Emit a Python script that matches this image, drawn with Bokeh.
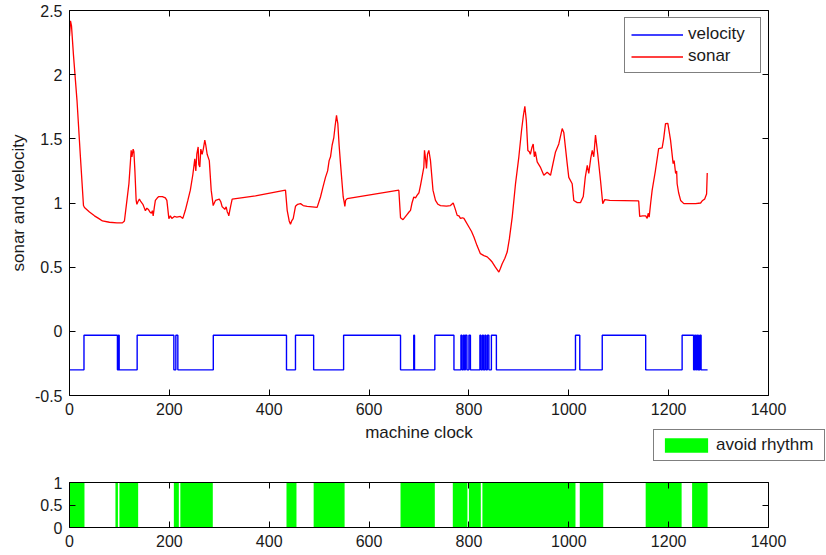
from bokeh.plotting import figure
from bokeh.models import (LinearAxis, Legend, LegendItem, FixedTicker, Range1d, Label)
from bokeh.layouts import column, row
from bokeh.embed import file_html
from bokeh.resources import INLINE

# ---- sonar reading against machine clock ----
sonar_t = [0, 2, 4, 8, 15, 22, 28, 30, 40, 50, 59, 66, 80, 95, 106, 110, 115, 119, 122,
           123.5, 125, 127.5, 129, 131, 133.5, 135, 137, 140, 143, 147, 150, 152, 155, 158,
           161, 164, 166, 167.6, 170, 172, 176, 179, 186, 192, 195, 197, 199, 202, 205, 210,
           215, 222, 227, 232, 237, 242, 247, 251, 253, 255, 257.7, 259, 261, 263, 265.7,
           268, 271, 273, 275.7, 280, 283.8, 287.8, 290, 292.4, 300, 303, 305.8, 309, 311,
           313.8, 316, 317.8, 319, 321, 323, 325.8, 372.5, 432.6, 436, 440, 442.6, 445, 448,
           452.6, 457, 462.7, 468, 476, 496, 502.7, 508, 512.7, 517, 520, 522.8, 526, 529.4,
           532, 534.8, 536, 537.4, 540, 542.8, 546, 548.2, 550, 551.5, 553, 556.2, 659.6,
           663, 668, 672, 676, 680, 683, 686, 689.6, 693, 696, 700, 703, 706, 709.7, 711,
           713, 715, 717, 719.7, 721, 723, 728, 733, 738, 743, 755, 763, 768.5, 772, 776.5,
           780, 783, 787, 790, 800, 805, 810, 816, 823, 830, 836.6, 842, 846.6, 853, 860,
           863, 866.6, 872, 876.6, 881, 886.7, 893.3, 900, 905.4, 909, 912, 915, 918, 921,
           923, 926, 928.7, 931, 933, 936.7, 943, 950, 956.7, 963.4, 968, 973.4, 980, 986.8,
           990, 996.8, 1000, 1006.8, 1010, 1017, 1023.4, 1029, 1033, 1037, 1040, 1044, 1047,
           1050, 1053.5, 1055, 1058, 1063.5, 1068, 1072, 1082, 1140, 1142, 1148, 1154, 1157,
           1159, 1161, 1164, 1167, 1173.6, 1180, 1187, 1190, 1193.7, 1198.4, 1203.8, 1209,
           1211, 1214, 1216, 1217, 1220, 1224, 1230.5, 1254, 1264, 1268, 1272, 1276, 1277.3]
sonar_v = [2.30, 2.42, 2.38, 2.15, 1.80, 1.35, 0.98, 0.965, 0.93, 0.90, 0.878, 0.86, 0.85,
           0.845, 0.845, 0.86, 1.02, 1.15, 1.32, 1.41, 1.36, 1.42, 1.40, 1.25, 1.02, 0.99,
           1.01, 1.03, 1.01, 0.99, 0.96, 0.94, 0.96, 0.95, 0.93, 0.92, 0.94, 0.90, 0.97,
           1.02, 1.04, 1.05, 1.05, 1.04, 1.02, 0.95, 0.878, 0.90, 0.88, 0.895, 0.89, 0.895,
           0.88, 0.943, 1.02, 1.10, 1.22, 1.345, 1.25, 1.38, 1.437, 1.30, 1.28, 1.42, 1.38,
           1.42, 1.49, 1.45, 1.38, 1.33, 1.10, 0.98, 1.00, 1.02, 1.03, 1.01, 0.97, 0.96,
           0.95, 0.97, 0.93, 0.917, 0.90, 0.94, 0.98, 1.03, 1.055, 1.10, 0.943, 0.86, 0.834,
           0.86, 0.878, 0.974, 0.99, 0.995, 0.98, 0.974, 0.966, 1.047, 1.13, 1.20, 1.25,
           1.33, 1.36, 1.45, 1.51, 1.60, 1.684, 1.65, 1.62, 1.45, 1.307, 1.15, 1.047, 1.01,
           0.974, 1.02, 1.034, 1.10, 0.886, 0.87, 0.89, 0.91, 0.93, 0.943, 1.00, 1.047, 1.04,
           1.06, 1.08, 1.138, 1.20, 1.28, 1.41, 1.35, 1.27, 1.38, 1.41, 1.38, 1.33, 1.10,
           1.02, 0.99, 0.98, 0.975, 0.98, 1.00, 0.96, 0.904, 0.90, 0.88, 0.885, 0.88, 0.813,
           0.78, 0.735, 0.67, 0.605, 0.59, 0.58, 0.56, 0.54, 0.50, 0.462, 0.49, 0.527, 0.57,
           0.618, 0.72, 0.89, 1.15, 1.36, 1.567, 1.68, 1.754, 1.64, 1.41, 1.40, 1.38, 1.43,
           1.46, 1.36, 1.40, 1.32, 1.28, 1.216, 1.24, 1.216, 1.30, 1.398, 1.46, 1.58, 1.55,
           1.307, 1.20, 1.15, 1.02, 1.003, 1.003, 1.05, 1.20, 1.294, 1.23, 1.35, 1.41, 1.36,
           1.53, 1.48, 1.38, 1.177, 0.995, 1.026, 1.02, 1.016, 0.896, 0.90, 0.90, 0.88, 0.92,
           0.89, 1.00, 1.10, 1.255, 1.424, 1.43, 1.50, 1.619, 1.62, 1.49, 1.307, 1.33, 1.23,
           1.25, 1.15, 1.08, 1.02, 0.995, 0.995, 1.00, 1.02, 1.03, 1.07, 1.234]

# ---- velocity: two levels, raised during these clock intervals ----
VEL_LOW = -0.3
VEL_HIGH = -0.03
VEL_END = 1278
vel_high_start = [29, 98, 135.5, 213, 288, 452.6, 549, 689.5, 731.7, 784, 789, 793, 800,
                  822, 827, 832, 837, 845, 1013.4, 1067, 1227, 1252, 1256, 1260, 1263]
vel_high_end = [96, 99.5, 209, 217, 434.6, 489, 663, 691, 770, 786, 791, 796, 803,
                824, 829, 834, 840, 855, 1022, 1154, 1250, 1254, 1258, 1261, 1265]

# ---- avoid-rhythm intervals ----
avoid_start = [0, 92, 100, 209, 222, 434.6, 489, 663, 767.7, 800, 827, 1022, 1154, 1247]
avoid_end = [30, 97, 137.5, 219, 287, 454.6, 551, 731.7, 797, 823.8, 1013.4, 1069, 1226, 1278]

# ---- ticks ----
x_ticks = [0, 200, 400, 600, 800, 1000, 1200, 1400]
x_tick_labels = ["0", "200", "400", "600", "800", "1000", "1200", "1400"]
y_ticks = [-0.5, 0, 0.5, 1, 1.5, 2, 2.5]
y_tick_labels = ["-0.5", "0", "0.5", "1", "1.5", "2", "2.5"]
y2_ticks = [0, 0.5, 1]
y2_tick_labels = ["0", "0.5", "1"]

FONT = "Liberation Sans"
TEXT = "#1a1a1a"
GREEN = "#00ff00"


def velocity_steps():
    t, v = [0], [VEL_LOW]
    for s, e in zip(vel_high_start, vel_high_end):
        t += [s, s, e, e]
        v += [VEL_LOW, VEL_HIGH, VEL_HIGH, VEL_LOW]
    t.append(VEL_END)
    v.append(VEL_LOW)
    return t, v


def style_axis(ax, ticks, labels, show_labels):
    ax.ticker = FixedTicker(ticks=ticks)
    ax.axis_line_color = "black"
    ax.axis_line_width = 1
    ax.major_tick_line_color = "black"
    ax.major_tick_in = 6
    ax.major_tick_out = 0
    ax.minor_tick_line_color = None
    ax.major_label_text_font = FONT
    if show_labels:
        ax.major_label_overrides = dict(zip(ticks, labels))
        ax.major_label_text_color = TEXT
        ax.major_label_text_font_size = "16px"
        ax.major_label_standoff = 7
    else:
        # mirrored box side: tick marks only
        ax.major_label_text_color = None
        ax.major_label_text_font_size = "1px"
        ax.major_label_standoff = 0


def boxed(p, xt, xl, yt, yl):
    p.xgrid.visible = False
    p.ygrid.visible = False
    p.outline_line_color = None
    style_axis(p.below[0], xt, xl, True)
    style_axis(p.left[0], yt, yl, True)
    top = LinearAxis()
    right = LinearAxis()
    style_axis(top, xt, xl, False)
    style_axis(right, yt, yl, False)
    p.add_layout(top, "above")
    p.add_layout(right, "right")


def blank(width, height):
    f = figure(width=width, height=height, x_axis_type=None, y_axis_type=None,
               x_range=Range1d(0, 1), y_range=Range1d(0, 1),
               output_backend="svg", toolbar_location=None, min_border=0,
               outline_line_color=None)
    f.grid.visible = False
    return f


# ---- main panel: sonar and velocity ----
p1 = figure(width=826, height=421, x_range=Range1d(0, 1400), y_range=Range1d(-0.5, 2.5),
            output_backend="svg", toolbar_location=None,
            min_border_left=69, min_border_right=58, min_border_top=10, min_border_bottom=26)
boxed(p1, x_ticks, x_tick_labels, y_ticks, y_tick_labels)
yax = p1.left[0]
yax.axis_label = "sonar and velocity"
yax.axis_label_text_font = FONT
yax.axis_label_text_font_size = "17px"
yax.axis_label_text_font_style = "normal"
yax.axis_label_text_color = TEXT
yax.axis_label_standoff = 4

vt, vv = velocity_steps()
r_vel = p1.line(vt, vv, line_color="#0000ff", line_width=1.4)
r_sonar = p1.line(sonar_t, sonar_v, line_color="#ff0000", line_width=1.3)

leg1 = Legend(items=[LegendItem(label="velocity", renderers=[r_vel]),
                     LegendItem(label="sonar", renderers=[r_sonar])],
              location="top_right", margin=7, padding=6, spacing=2,
              glyph_width=52, glyph_height=19, label_standoff=5, label_width=66,
              label_text_font=FONT, label_text_font_size="17px", label_text_color=TEXT,
              border_line_color="black", border_line_width=1,
              background_fill_color="white", background_fill_alpha=1)
p1.add_layout(leg1)

# ---- strip between the panels: clock-axis title and the avoid-rhythm key ----
lab = blank(652, 41)
lab.add_layout(Label(x=418.5, y=30, x_units="screen", y_units="screen",
                     text="machine clock", text_align="center",
                     text_baseline="alphabetic", text_font=FONT,
                     text_font_size="17px", text_color=TEXT))

key = blank(174, 41)
# zero-area proxy: only its fill style is used, by the key swatch
r_key = key.quad(left=[0], right=[0], top=[0], bottom=[0], fill_color=GREEN, line_color=None)
leg2 = Legend(items=[LegendItem(label="avoid rhythm", renderers=[r_key])],
              location=(1, 1), margin=0, padding=5,
              glyph_width=54, glyph_height=18, label_standoff=3, label_width=103,
              label_text_font=FONT, label_text_font_size="17px", label_text_color=TEXT,
              border_line_color="black", border_line_width=1,
              background_fill_color="white", background_fill_alpha=1)
key.add_layout(leg2)

# ---- avoid-rhythm strip ----
p2 = figure(width=826, height=93, x_range=Range1d(0, 1400), y_range=Range1d(0, 1),
            output_backend="svg", toolbar_location=None,
            min_border_left=69, min_border_right=58, min_border_top=20, min_border_bottom=28)
boxed(p2, x_ticks, x_tick_labels, y2_ticks, y2_tick_labels)
p2.quad(left=avoid_start, right=avoid_end, bottom=0, top=1,
        fill_color=GREEN, line_color=None)

layout = column(p1, row(lab, key), p2)
open("out.html", "w").write(file_html(layout, INLINE))
